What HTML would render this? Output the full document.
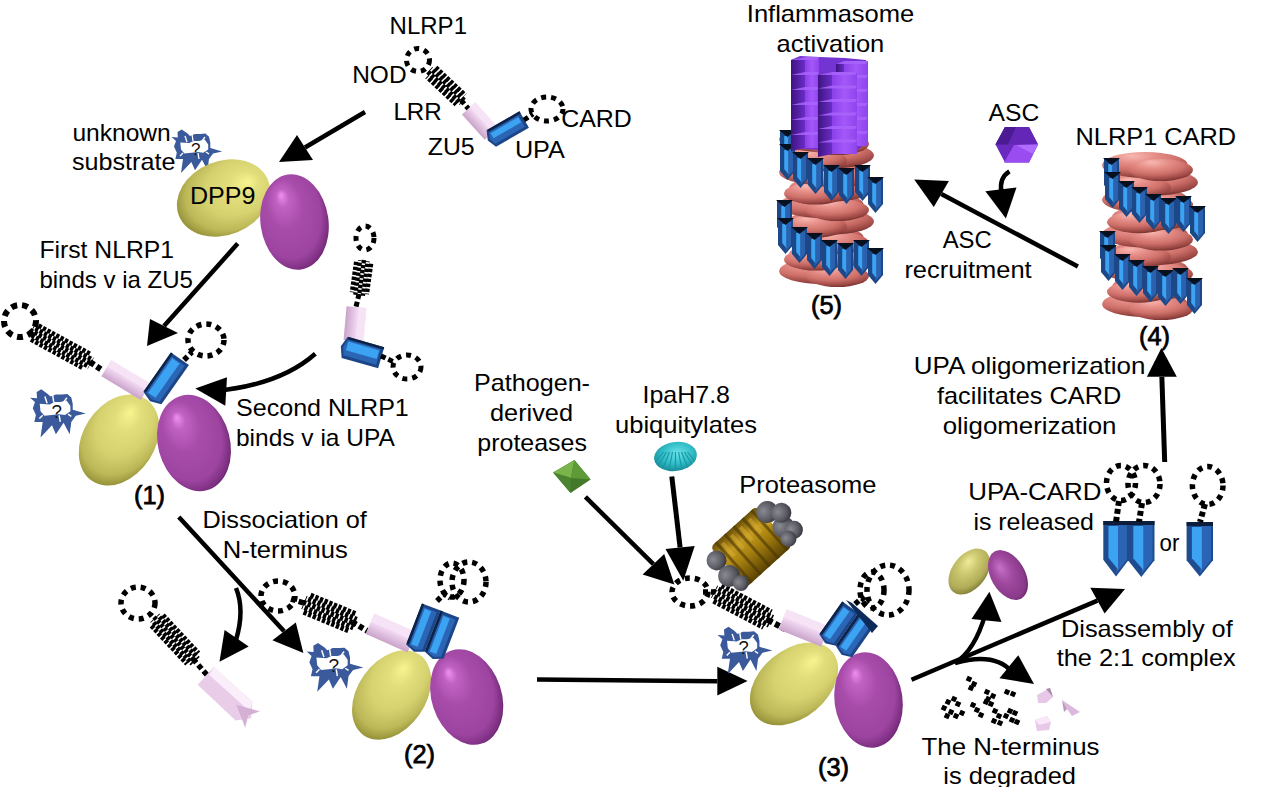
<!DOCTYPE html><html><head><meta charset="utf-8"><style>html,body{margin:0;padding:0;background:#fff;overflow:hidden;width:1280px;height:787px;}svg{display:block;}text{font-family:"Liberation Sans",sans-serif;fill:#000;}</style></head><body>
<svg width="1280" height="787" viewBox="0 0 1280 787">
<defs>
<radialGradient id="gy" cx="0.6" cy="0.46" r="0.66" fx="0.8" fy="0.42">
<stop offset="0" stop-color="#f8f48e"/><stop offset="0.25" stop-color="#e2de7c"/><stop offset="0.55" stop-color="#d6d270"/><stop offset="0.8" stop-color="#bcb858"/><stop offset="0.93" stop-color="#98943a"/><stop offset="1" stop-color="#6e6a22"/></radialGradient>
<radialGradient id="gp" cx="0.44" cy="0.45" r="0.62" fx="0.36" fy="0.2">
<stop offset="0" stop-color="#f090f0"/><stop offset="0.15" stop-color="#c062c2"/><stop offset="0.42" stop-color="#a84caa"/><stop offset="0.78" stop-color="#9c44a0"/><stop offset="0.92" stop-color="#7c2e80"/><stop offset="1" stop-color="#561a5a"/></radialGradient>
<linearGradient id="gpk" x1="0" y1="0" x2="0" y2="1">
<stop offset="0" stop-color="#fbecfb"/><stop offset="0.45" stop-color="#efd4ef"/><stop offset="1" stop-color="#c9a4c9"/></linearGradient>
<radialGradient id="gsal" cx="0.4" cy="0.2" r="0.85" fx="0.35" fy="0.15">
<stop offset="0" stop-color="#f8b8b0"/><stop offset="0.3" stop-color="#e68e88"/><stop offset="0.6" stop-color="#cf706a"/><stop offset="0.85" stop-color="#9c4844"/><stop offset="1" stop-color="#6a2a28"/></radialGradient>
<linearGradient id="ggold" x1="0" y1="0" x2="0" y2="1">
<stop offset="0" stop-color="#6a5008"/><stop offset="0.3" stop-color="#c49a22"/><stop offset="0.55" stop-color="#a8820f"/><stop offset="1" stop-color="#5a4204"/></linearGradient>
<radialGradient id="ggray" cx="0.4" cy="0.35" r="0.7">
<stop offset="0" stop-color="#8a8a92"/><stop offset="0.6" stop-color="#5c5c64"/><stop offset="1" stop-color="#34343c"/></radialGradient>
<radialGradient id="gcy" cx="0.55" cy="0.4" r="0.6">
<stop offset="0" stop-color="#6ae4ea"/><stop offset="0.6" stop-color="#30bcc6"/><stop offset="1" stop-color="#1a8e9a"/></radialGradient>
<linearGradient id="gvf" x1="0" y1="0" x2="1" y2="0">
<stop offset="0" stop-color="#8a40e8"/><stop offset="0.5" stop-color="#a458fa"/><stop offset="1" stop-color="#8e44ec"/></linearGradient>
<linearGradient id="gvd" x1="0" y1="0" x2="1" y2="0">
<stop offset="0" stop-color="#3e1480"/><stop offset="1" stop-color="#6a2cc8"/></linearGradient>
<radialGradient id="gy2" cx="0.55" cy="0.4" r="0.7" fx="0.65" fy="0.3">
<stop offset="0" stop-color="#eeea98"/><stop offset="0.35" stop-color="#ccc870"/><stop offset="0.7" stop-color="#b0ac58"/><stop offset="1" stop-color="#6a6626"/></radialGradient>
<radialGradient id="gp2" cx="0.45" cy="0.45" r="0.65" fx="0.4" fy="0.3">
<stop offset="0" stop-color="#c870c8"/><stop offset="0.4" stop-color="#a04aa0"/><stop offset="0.8" stop-color="#8a3a8a"/><stop offset="1" stop-color="#4e1a4e"/></radialGradient>
</defs>
<rect width="1280" height="787" fill="#fff"/>
<line x1="365" y1="112" x2="305.0" y2="147.5" stroke="#000" stroke-width="4.5"/>
<polygon points="279,162 297,135 313,160" fill="#000"/>
<line x1="237.7" y1="243.6" x2="164.0" y2="326.0" stroke="#000" stroke-width="4.5"/>
<polygon points="147,346 150,319 178,333" fill="#000"/>
<path d="M315.3,353.8 Q280,385 215,391" fill="none" stroke="#000" stroke-width="4.5"/>
<polygon points="195.3,388.5 227,377.3 225.3,405.8" fill="#000"/>
<line x1="178.8" y1="516.9" x2="284.1" y2="631.3" stroke="#000" stroke-width="4.5"/>
<polygon points="303.4,652.9 272.4,640.2 295.8,622.4" fill="#000"/>
<path d="M236,588 Q245,610 236,640" fill="none" stroke="#000" stroke-width="4.5"/>
<polygon points="219.5,661.8 224.6,630 248.7,646.5" fill="#000"/>
<line x1="537" y1="679.6" x2="717.3" y2="681.1500000000001" stroke="#000" stroke-width="4.5"/>
<polygon points="747.6,681 717.3,666.7 717.3,695.6" fill="#000"/>
<line x1="585.4" y1="496.9" x2="653.4000000000001" y2="564.2" stroke="#000" stroke-width="4.5"/>
<polygon points="674.4,584.6 642.6,574.4 664.2,554" fill="#000"/>
<line x1="671.8" y1="476.5" x2="680.1" y2="547.5" stroke="#000" stroke-width="5"/>
<polygon points="683.3,580.7 665.5,549 694.7,546" fill="#000"/>
<line x1="911.5" y1="679.7" x2="1097.4499999999998" y2="600.6500000000001" stroke="#000" stroke-width="4.5"/>
<polygon points="1125,589 1090.3,587.7 1104.6,613.6" fill="#000"/>
<path d="M955,663 Q975,650 985,615" fill="none" stroke="#000" stroke-width="4.5"/>
<polygon points="989.4,591.7 971.5,619 1001.5,622" fill="#000"/>
<path d="M955,663 Q995,652 1012,672" fill="none" stroke="#000" stroke-width="4.5"/>
<polygon points="1034,684 999.5,678.3 1018.3,655.2" fill="#000"/>
<line x1="1164.7" y1="462" x2="1161.85" y2="376.8" stroke="#000" stroke-width="5"/>
<polygon points="1161.4,347.9 1146.9,376.8 1176.8,376.8" fill="#000"/>
<line x1="1077.9" y1="266.5" x2="941.3499999999999" y2="194.05" stroke="#000" stroke-width="4.5"/>
<polygon points="914.2,179.4 948.9,181.1 933.8,207" fill="#000"/>
<path d="M1009.4,171.4 Q999,178 1001.4,192" fill="none" stroke="#000" stroke-width="4.5"/>
<polygon points="1005.9,218.5 985.4,191.3 1016.5,187.4" fill="#000"/>
<g transform="translate(196 150) scale(1.0)"><path d="M-24.5,-12.9 L-18.2,-12.5 L-18.5,-18.1 L-14.3,-20.6 L-8.7,-16.7 L-6,-14 L-1,-16 L4.5,-16 L9.4,-16.4 L13,-13.2 L14.3,-7.6 L14.3,-2 L26.2,1.4 L17.1,3.5 L13,9 L11.5,20.3 L6,9.8 L-1,20.3 L-4.6,12 L-15,23.1 L-13,9.1 L-20.6,9.1 L-19.2,2.8 L-22,-3.4 L-20,-9Z M-15.7,-7.6 L-6.6,-6.9 L-2.5,-9 L3,-9 L8.7,-10.4 L12.2,-5.5 L12.2,-0.6 L7.3,2.8 L1.7,2.1 L-4.6,2.8 L-11.5,3.5 L-15,-0.6Z" fill="#3a5a9c" fill-rule="evenodd"/><line x1="-4" y1="-16" x2="-3" y2="-9" stroke="#fff" stroke-width="1.3"/><line x1="-11" y1="-14" x2="-9" y2="-8" stroke="#fff" stroke-width="1.3"/><line x1="9" y1="-13" x2="6" y2="-9" stroke="#fff" stroke-width="1.3"/><line x1="-16" y1="6" x2="-13" y2="3" stroke="#fff" stroke-width="1.3"/><line x1="3" y1="9" x2="2" y2="3" stroke="#fff" stroke-width="1.3"/><line x1="13" y1="4" x2="10" y2="2" stroke="#fff" stroke-width="1.3"/><text x="-5" y="5" font-size="17" style="fill:#111">?</text></g>
<ellipse cx="223.5" cy="198" rx="48" ry="37" transform="rotate(-22 223.5 198)" fill="url(#gy)"/>
<ellipse cx="294.5" cy="222" rx="34" ry="48" transform="rotate(-8 294.5 222)" fill="url(#gp)"/>
<ellipse cx="418" cy="60" rx="11.5" ry="11.5" transform="rotate(0 418 60)" fill="none" stroke="#000" stroke-width="5" stroke-dasharray="5 5"/>
<g transform="translate(429 70) rotate(43.3)"><line x1="3.2" y1="-6.4" x2="43.5" y2="-6.4" stroke="#000" stroke-width="4.8" stroke-dasharray="3.4 1.6" stroke-dashoffset="0.0"/><line x1="0.4" y1="-2.1" x2="46.3" y2="-2.1" stroke="#000" stroke-width="4.8" stroke-dasharray="3.4 1.6" stroke-dashoffset="2.5"/><line x1="0.4" y1="2.1" x2="46.3" y2="2.1" stroke="#000" stroke-width="4.8" stroke-dasharray="3.4 1.6" stroke-dashoffset="0.0"/><line x1="3.2" y1="6.4" x2="43.5" y2="6.4" stroke="#000" stroke-width="4.8" stroke-dasharray="3.4 1.6" stroke-dashoffset="2.5"/></g>
<path d="M461,100 L472,113" fill="none" stroke="#000" stroke-width="5" stroke-dasharray="5 3"/>
<g transform="translate(480 121) rotate(48)"><polygon points="-17.0,-9.0 17.0,-9.0 17.0,9.0 -17.0,9.0" fill="url(#gpk)"/><polygon points="-17.0,-9.0 17.0,-9.0 17.0,-1.7999999999999998 -17.0,-1.7999999999999998" fill="#f6e4f6"/></g>
<g transform="translate(506 130) rotate(-30)"><polygon points="-17.0,-9.5 21.0,-9.5 21.0,9.5 -17.0,9.5 -21.0,0" fill="#1c4688"/><polygon points="-16.0,-6.5 18.0,-6.5 18.0,6.5 -16.0,6.5 -18.5,0" fill="#2b66b6"/><polygon points="-15.0,-5.0 17.0,-5.0 17.0,1.0 -15.0,1.0" fill="#3ca2f2"/><line x1="-16.0" y1="-8.3" x2="21.0" y2="-8.3" stroke="#0c2246" stroke-width="2.4"/></g>
<ellipse cx="547" cy="109" rx="16" ry="12" transform="rotate(0 547 109)" fill="none" stroke="#000" stroke-width="5" stroke-dasharray="5 5"/>
<path d="M524,120 L533,114" fill="none" stroke="#000" stroke-width="5" stroke-dasharray="5 3"/>
<ellipse cx="365" cy="238" rx="9" ry="12" transform="rotate(0 365 238)" fill="none" stroke="#000" stroke-width="5" stroke-dasharray="5 5"/>
<g transform="translate(364 260) rotate(97.9)"><line x1="2.8" y1="-7.6" x2="33.6" y2="-7.6" stroke="#000" stroke-width="4.3" stroke-dasharray="3.4 1.6" stroke-dashoffset="0.0"/><line x1="0.7" y1="-3.8" x2="35.6" y2="-3.8" stroke="#000" stroke-width="4.3" stroke-dasharray="3.4 1.6" stroke-dashoffset="2.5"/><line x1="0.0" y1="0.0" x2="36.3" y2="0.0" stroke="#000" stroke-width="4.3" stroke-dasharray="3.4 1.6" stroke-dashoffset="0.0"/><line x1="0.7" y1="3.8" x2="35.6" y2="3.8" stroke="#000" stroke-width="4.3" stroke-dasharray="3.4 1.6" stroke-dashoffset="2.5"/><line x1="2.8" y1="7.6" x2="33.6" y2="7.6" stroke="#000" stroke-width="4.3" stroke-dasharray="3.4 1.6" stroke-dashoffset="0.0"/></g>
<path d="M359,294 L356,307" fill="none" stroke="#000" stroke-width="5" stroke-dasharray="5 3"/>
<g transform="translate(355 324) rotate(95)"><polygon points="-17.0,-10.0 17.0,-10.0 17.0,10.0 -17.0,10.0" fill="url(#gpk)"/><polygon points="-17.0,-10.0 17.0,-10.0 17.0,-2.0 -17.0,-2.0" fill="#f6e4f6"/></g>
<g transform="translate(361 352) rotate(16)"><polygon points="-17.0,-11.0 21.0,-11.0 21.0,11.0 -17.0,11.0 -21.0,0" fill="#1c4688"/><polygon points="-16.0,-8.0 18.0,-8.0 18.0,8.0 -16.0,8.0 -18.5,0" fill="#2b66b6"/><polygon points="-15.0,-6.5 17.0,-6.5 17.0,2.5 -15.0,2.5" fill="#3ca2f2"/><line x1="-16.0" y1="-9.8" x2="21.0" y2="-9.8" stroke="#0c2246" stroke-width="2.4"/></g>
<ellipse cx="407" cy="367" rx="14" ry="12" transform="rotate(0 407 367)" fill="none" stroke="#000" stroke-width="5" stroke-dasharray="5 5"/>
<path d="M381,356 L394,362" fill="none" stroke="#000" stroke-width="5" stroke-dasharray="5 3"/>
<g transform="translate(57 412) scale(1.1)"><path d="M-24.5,-12.9 L-18.2,-12.5 L-18.5,-18.1 L-14.3,-20.6 L-8.7,-16.7 L-6,-14 L-1,-16 L4.5,-16 L9.4,-16.4 L13,-13.2 L14.3,-7.6 L14.3,-2 L26.2,1.4 L17.1,3.5 L13,9 L11.5,20.3 L6,9.8 L-1,20.3 L-4.6,12 L-15,23.1 L-13,9.1 L-20.6,9.1 L-19.2,2.8 L-22,-3.4 L-20,-9Z M-15.7,-7.6 L-6.6,-6.9 L-2.5,-9 L3,-9 L8.7,-10.4 L12.2,-5.5 L12.2,-0.6 L7.3,2.8 L1.7,2.1 L-4.6,2.8 L-11.5,3.5 L-15,-0.6Z" fill="#3a5a9c" fill-rule="evenodd"/><line x1="-4" y1="-16" x2="-3" y2="-9" stroke="#fff" stroke-width="1.3"/><line x1="-11" y1="-14" x2="-9" y2="-8" stroke="#fff" stroke-width="1.3"/><line x1="9" y1="-13" x2="6" y2="-9" stroke="#fff" stroke-width="1.3"/><line x1="-16" y1="6" x2="-13" y2="3" stroke="#fff" stroke-width="1.3"/><line x1="3" y1="9" x2="2" y2="3" stroke="#fff" stroke-width="1.3"/><line x1="13" y1="4" x2="10" y2="2" stroke="#fff" stroke-width="1.3"/><text x="-5" y="5" font-size="17" style="fill:#111">?</text></g>
<ellipse cx="119" cy="440" rx="49" ry="36" transform="rotate(-57 119 440)" fill="url(#gy)"/>
<ellipse cx="194" cy="443" rx="36" ry="49" transform="rotate(-15 194 443)" fill="url(#gp)"/>
<ellipse cx="20" cy="321" rx="16" ry="16" transform="rotate(0 20 321)" fill="none" stroke="#000" stroke-width="6" stroke-dasharray="6 5"/>
<g transform="translate(30 330) rotate(28.7)"><line x1="5.4" y1="-8.0" x2="65.3" y2="-8.0" stroke="#000" stroke-width="4.5" stroke-dasharray="3.4 1.6" stroke-dashoffset="0.0"/><line x1="1.4" y1="-4.0" x2="69.4" y2="-4.0" stroke="#000" stroke-width="4.5" stroke-dasharray="3.4 1.6" stroke-dashoffset="2.5"/><line x1="0.0" y1="0.0" x2="70.7" y2="0.0" stroke="#000" stroke-width="4.5" stroke-dasharray="3.4 1.6" stroke-dashoffset="0.0"/><line x1="1.4" y1="4.0" x2="69.4" y2="4.0" stroke="#000" stroke-width="4.5" stroke-dasharray="3.4 1.6" stroke-dashoffset="2.5"/><line x1="5.4" y1="8.0" x2="65.3" y2="8.0" stroke="#000" stroke-width="4.5" stroke-dasharray="3.4 1.6" stroke-dashoffset="0.0"/></g>
<path d="M90,362 L102,370" fill="none" stroke="#000" stroke-width="6" stroke-dasharray="5 3"/>
<g transform="translate(126 380) rotate(31)"><polygon points="-23.0,-9.5 23.0,-9.5 23.0,9.5 -23.0,9.5" fill="url(#gpk)"/><polygon points="-23.0,-9.5 23.0,-9.5 23.0,-1.8999999999999995 -23.0,-1.8999999999999995" fill="#f6e4f6"/></g>
<g transform="translate(165 380) rotate(-55)"><polygon points="-22.0,-11.0 26.0,-11.0 26.0,11.0 -22.0,11.0 -26.0,0" fill="#1c4688"/><polygon points="-21.0,-8.0 23.0,-8.0 23.0,8.0 -21.0,8.0 -23.5,0" fill="#2b66b6"/><polygon points="-20.0,-6.5 22.0,-6.5 22.0,2.5 -20.0,2.5" fill="#3ca2f2"/><line x1="-21.0" y1="-9.8" x2="26.0" y2="-9.8" stroke="#0c2246" stroke-width="2.4"/></g>
<ellipse cx="206" cy="340" rx="18" ry="16" transform="rotate(0 206 340)" fill="none" stroke="#000" stroke-width="5.5" stroke-dasharray="5 5"/>
<path d="M184,360 L192,352" fill="none" stroke="#000" stroke-width="5.5" stroke-dasharray="5 3"/>
<ellipse cx="138" cy="603" rx="17" ry="16" transform="rotate(0 138 603)" fill="none" stroke="#000" stroke-width="5.5" stroke-dasharray="5 5"/>
<g transform="translate(154 617) rotate(47.0)"><line x1="4.7" y1="-8.0" x2="56.8" y2="-8.0" stroke="#000" stroke-width="4.5" stroke-dasharray="3.4 1.6" stroke-dashoffset="0.0"/><line x1="1.2" y1="-4.0" x2="60.4" y2="-4.0" stroke="#000" stroke-width="4.5" stroke-dasharray="3.4 1.6" stroke-dashoffset="2.5"/><line x1="0.0" y1="0.0" x2="61.6" y2="0.0" stroke="#000" stroke-width="4.5" stroke-dasharray="3.4 1.6" stroke-dashoffset="0.0"/><line x1="1.2" y1="4.0" x2="60.4" y2="4.0" stroke="#000" stroke-width="4.5" stroke-dasharray="3.4 1.6" stroke-dashoffset="2.5"/><line x1="4.7" y1="8.0" x2="56.8" y2="8.0" stroke="#000" stroke-width="4.5" stroke-dasharray="3.4 1.6" stroke-dashoffset="0.0"/></g>
<path d="M193,659 L207,675" fill="none" stroke="#000" stroke-width="5.5" stroke-dasharray="5 3"/>
<g transform="translate(228 696) rotate(42)"><polygon points="-30,-12 22,-12 32,1 22,13 -30,12" fill="#e8cce8"/><polygon points="-30,-12 22,-12 27,-3 -28,-3" fill="#faeefa"/><polygon points="12,1 34,-10 28,1 34,12" fill="#d4b0d4"/></g>
<g transform="translate(334 666) scale(1.12)"><path d="M-24.5,-12.9 L-18.2,-12.5 L-18.5,-18.1 L-14.3,-20.6 L-8.7,-16.7 L-6,-14 L-1,-16 L4.5,-16 L9.4,-16.4 L13,-13.2 L14.3,-7.6 L14.3,-2 L26.2,1.4 L17.1,3.5 L13,9 L11.5,20.3 L6,9.8 L-1,20.3 L-4.6,12 L-15,23.1 L-13,9.1 L-20.6,9.1 L-19.2,2.8 L-22,-3.4 L-20,-9Z M-15.7,-7.6 L-6.6,-6.9 L-2.5,-9 L3,-9 L8.7,-10.4 L12.2,-5.5 L12.2,-0.6 L7.3,2.8 L1.7,2.1 L-4.6,2.8 L-11.5,3.5 L-15,-0.6Z" fill="#3a5a9c" fill-rule="evenodd"/><line x1="-4" y1="-16" x2="-3" y2="-9" stroke="#fff" stroke-width="1.3"/><line x1="-11" y1="-14" x2="-9" y2="-8" stroke="#fff" stroke-width="1.3"/><line x1="9" y1="-13" x2="6" y2="-9" stroke="#fff" stroke-width="1.3"/><line x1="-16" y1="6" x2="-13" y2="3" stroke="#fff" stroke-width="1.3"/><line x1="3" y1="9" x2="2" y2="3" stroke="#fff" stroke-width="1.3"/><line x1="13" y1="4" x2="10" y2="2" stroke="#fff" stroke-width="1.3"/><text x="-5" y="5" font-size="17" style="fill:#111">?</text></g>
<ellipse cx="391.6" cy="695" rx="49" ry="34" transform="rotate(-55 391.6 695)" fill="url(#gy)"/>
<ellipse cx="466.7" cy="697" rx="35" ry="49" transform="rotate(-18 466.7 697)" fill="url(#gp)"/>
<ellipse cx="278" cy="596" rx="17" ry="15" transform="rotate(0 278 596)" fill="none" stroke="#000" stroke-width="5.5" stroke-dasharray="5 5"/>
<path d="M291,599 L304,603" fill="none" stroke="#000" stroke-width="5.5" stroke-dasharray="5 3"/>
<g transform="translate(303 602) rotate(22.5)"><line x1="4.4" y1="-9.2" x2="53.0" y2="-9.2" stroke="#000" stroke-width="5.1" stroke-dasharray="3.4 1.6" stroke-dashoffset="0.0"/><line x1="1.1" y1="-4.6" x2="56.3" y2="-4.6" stroke="#000" stroke-width="5.1" stroke-dasharray="3.4 1.6" stroke-dashoffset="2.5"/><line x1="0.0" y1="0.0" x2="57.4" y2="0.0" stroke="#000" stroke-width="5.1" stroke-dasharray="3.4 1.6" stroke-dashoffset="0.0"/><line x1="1.1" y1="4.6" x2="56.3" y2="4.6" stroke="#000" stroke-width="5.1" stroke-dasharray="3.4 1.6" stroke-dashoffset="2.5"/><line x1="4.4" y1="9.2" x2="53.0" y2="9.2" stroke="#000" stroke-width="5.1" stroke-dasharray="3.4 1.6" stroke-dashoffset="0.0"/></g>
<path d="M352,622 L371,633" fill="none" stroke="#000" stroke-width="6" stroke-dasharray="5 3"/>
<g transform="translate(391 633) rotate(24)"><polygon points="-23.0,-11.0 23.0,-11.0 23.0,11.0 -23.0,11.0" fill="url(#gpk)"/><polygon points="-23.0,-11.0 23.0,-11.0 23.0,-2.1999999999999993 -23.0,-2.1999999999999993" fill="#f6e4f6"/></g>
<g transform="translate(432 633) rotate(-69)"><polygon points="-20.0,-20.0 24.0,-20.0 24.0,0.0 -20.0,0.0 -24.0,-10.0" fill="#1c4688"/><polygon points="-19.0,-17.0 21.0,-17.0 21.0,-3.0 -19.0,-3.0 -21.5,-10.0" fill="#2b66b6"/><polygon points="-18.0,-15.5 20.0,-15.5 20.0,-8.5 -18.0,-8.5" fill="#3ca2f2"/><line x1="-19.0" y1="-18.8" x2="24.0" y2="-18.8" stroke="#0c2246" stroke-width="2.4"/><polygon points="-20.0,0.0 24.0,0.0 24.0,20.0 -20.0,20.0 -24.0,10.0" fill="#1c4688"/><polygon points="-19.0,3.0 21.0,3.0 21.0,17.0 -19.0,17.0 -21.5,10.0" fill="#2b66b6"/><polygon points="-18.0,4.5 20.0,4.5 20.0,11.5 -18.0,11.5" fill="#3ca2f2"/><line x1="-19.0" y1="1.2" x2="24.0" y2="1.2" stroke="#0c2246" stroke-width="2.4"/></g>
<ellipse cx="469" cy="582" rx="17" ry="20" transform="rotate(0 469 582)" fill="none" stroke="#000" stroke-width="5.5" stroke-dasharray="5 5"/>
<ellipse cx="452" cy="580" rx="12" ry="17" transform="rotate(0 452 580)" fill="none" stroke="#000" stroke-width="5.5" stroke-dasharray="5 5"/>
<path d="M437,601 L444,594 L450,598" fill="none" stroke="#000" stroke-width="5.5" stroke-dasharray="5 3"/>
<g transform="translate(744 649) scale(1.08)"><path d="M-24.5,-12.9 L-18.2,-12.5 L-18.5,-18.1 L-14.3,-20.6 L-8.7,-16.7 L-6,-14 L-1,-16 L4.5,-16 L9.4,-16.4 L13,-13.2 L14.3,-7.6 L14.3,-2 L26.2,1.4 L17.1,3.5 L13,9 L11.5,20.3 L6,9.8 L-1,20.3 L-4.6,12 L-15,23.1 L-13,9.1 L-20.6,9.1 L-19.2,2.8 L-22,-3.4 L-20,-9Z M-15.7,-7.6 L-6.6,-6.9 L-2.5,-9 L3,-9 L8.7,-10.4 L12.2,-5.5 L12.2,-0.6 L7.3,2.8 L1.7,2.1 L-4.6,2.8 L-11.5,3.5 L-15,-0.6Z" fill="#3a5a9c" fill-rule="evenodd"/><line x1="-4" y1="-16" x2="-3" y2="-9" stroke="#fff" stroke-width="1.3"/><line x1="-11" y1="-14" x2="-9" y2="-8" stroke="#fff" stroke-width="1.3"/><line x1="9" y1="-13" x2="6" y2="-9" stroke="#fff" stroke-width="1.3"/><line x1="-16" y1="6" x2="-13" y2="3" stroke="#fff" stroke-width="1.3"/><line x1="3" y1="9" x2="2" y2="3" stroke="#fff" stroke-width="1.3"/><line x1="13" y1="4" x2="10" y2="2" stroke="#fff" stroke-width="1.3"/><text x="-5" y="5" font-size="17" style="fill:#111">?</text></g>
<ellipse cx="794" cy="684" rx="50" ry="34" transform="rotate(-40 794 684)" fill="url(#gy)"/>
<ellipse cx="868.5" cy="700" rx="34" ry="48" transform="rotate(-8 868.5 700)" fill="url(#gp)"/>
<ellipse cx="690" cy="592" rx="18" ry="14" transform="rotate(0 690 592)" fill="none" stroke="#000" stroke-width="5.5" stroke-dasharray="5 5"/>
<path d="M703,592 L714,592" fill="none" stroke="#000" stroke-width="5.5" stroke-dasharray="5 3"/>
<g transform="translate(713 591) rotate(27.7)"><line x1="5.1" y1="-8.8" x2="61.5" y2="-8.8" stroke="#000" stroke-width="4.9" stroke-dasharray="3.4 1.6" stroke-dashoffset="0.0"/><line x1="1.3" y1="-4.4" x2="65.4" y2="-4.4" stroke="#000" stroke-width="4.9" stroke-dasharray="3.4 1.6" stroke-dashoffset="2.5"/><line x1="0.0" y1="0.0" x2="66.6" y2="0.0" stroke="#000" stroke-width="4.9" stroke-dasharray="3.4 1.6" stroke-dashoffset="0.0"/><line x1="1.3" y1="4.4" x2="65.4" y2="4.4" stroke="#000" stroke-width="4.9" stroke-dasharray="3.4 1.6" stroke-dashoffset="2.5"/><line x1="5.1" y1="8.8" x2="61.5" y2="8.8" stroke="#000" stroke-width="4.9" stroke-dasharray="3.4 1.6" stroke-dashoffset="0.0"/></g>
<path d="M768,620 L785,629" fill="none" stroke="#000" stroke-width="6" stroke-dasharray="5 3"/>
<g transform="translate(804 628) rotate(22)"><polygon points="-23.0,-11.0 23.0,-11.0 23.0,11.0 -23.0,11.0" fill="url(#gpk)"/><polygon points="-23.0,-11.0 23.0,-11.0 23.0,-2.1999999999999993 -23.0,-2.1999999999999993" fill="#f6e4f6"/></g>
<g transform="translate(846 631) rotate(-55)"><polygon points="-18.0,-20.0 22.0,-20.0 22.0,0.0 -18.0,0.0 -22.0,-10.0" fill="#1c4688"/><polygon points="-17.0,-17.0 19.0,-17.0 19.0,-3.0 -17.0,-3.0 -19.5,-10.0" fill="#2b66b6"/><polygon points="-16.0,-15.5 18.0,-15.5 18.0,-8.5 -16.0,-8.5" fill="#3ca2f2"/><line x1="-17.0" y1="-18.8" x2="22.0" y2="-18.8" stroke="#0c2246" stroke-width="2.4"/><polygon points="-18.0,0.0 22.0,0.0 22.0,20.0 -18.0,20.0 -22.0,10.0" fill="#1c4688"/><polygon points="-17.0,3.0 19.0,3.0 19.0,17.0 -17.0,17.0 -19.5,10.0" fill="#2b66b6"/><polygon points="-16.0,4.5 18.0,4.5 18.0,11.5 -16.0,11.5" fill="#3ca2f2"/><line x1="-17.0" y1="1.2" x2="22.0" y2="1.2" stroke="#0c2246" stroke-width="2.4"/></g>
<polygon points="846,600 852,603 878,626 872,633" fill="#0e2a58"/>
<ellipse cx="888" cy="590" rx="21" ry="25" transform="rotate(0 888 590)" fill="none" stroke="#000" stroke-width="5.5" stroke-dasharray="5 5"/>
<ellipse cx="872" cy="590" rx="12" ry="18" transform="rotate(0 872 590)" fill="none" stroke="#000" stroke-width="5.5" stroke-dasharray="5 5"/>
<path d="M855,604 L862,598 L868,604" fill="none" stroke="#000" stroke-width="5.5" stroke-dasharray="5 3"/>
<ellipse cx="969.3" cy="571.6" rx="26" ry="17" transform="rotate(-52 969.3 571.6)" fill="url(#gy2)"/>
<ellipse cx="1008" cy="575" rx="17" ry="27" transform="rotate(-30 1008 575)" fill="url(#gp2)"/>
<rect x="966.5" y="676.5" width="5" height="5" fill="#000" transform="rotate(25 969 679)"/>
<rect x="971.5" y="681.5" width="5" height="5" fill="#000" transform="rotate(25 974 684)"/>
<rect x="968.5" y="685.5" width="5" height="5" fill="#000" transform="rotate(25 971 688)"/>
<rect x="984.5" y="689.5" width="5" height="5" fill="#000" transform="rotate(25 987 692)"/>
<rect x="990.5" y="693.5" width="5" height="5" fill="#000" transform="rotate(25 993 696)"/>
<rect x="985.5" y="696.5" width="5" height="5" fill="#000" transform="rotate(25 988 699)"/>
<rect x="1004.5" y="689.5" width="5" height="5" fill="#000" transform="rotate(25 1007 692)"/>
<rect x="1010.5" y="691.5" width="5" height="5" fill="#000" transform="rotate(25 1013 694)"/>
<rect x="941.5" y="705.5" width="5" height="5" fill="#000" transform="rotate(25 944 708)"/>
<rect x="945.5" y="699.5" width="5" height="5" fill="#000" transform="rotate(25 948 702)"/>
<rect x="951.5" y="696.5" width="5" height="5" fill="#000" transform="rotate(25 954 699)"/>
<rect x="955.5" y="701.5" width="5" height="5" fill="#000" transform="rotate(25 958 704)"/>
<rect x="948.5" y="709.5" width="5" height="5" fill="#000" transform="rotate(25 951 712)"/>
<rect x="953.5" y="713.5" width="5" height="5" fill="#000" transform="rotate(25 956 716)"/>
<rect x="959.5" y="710.5" width="5" height="5" fill="#000" transform="rotate(25 962 713)"/>
<rect x="944.5" y="713.5" width="5" height="5" fill="#000" transform="rotate(25 947 716)"/>
<rect x="970.5" y="702.5" width="5" height="5" fill="#000" transform="rotate(25 973 705)"/>
<rect x="974.5" y="707.5" width="5" height="5" fill="#000" transform="rotate(25 977 710)"/>
<rect x="978.5" y="712.5" width="5" height="5" fill="#000" transform="rotate(25 981 715)"/>
<rect x="983.5" y="699.5" width="5" height="5" fill="#000" transform="rotate(25 986 702)"/>
<rect x="988.5" y="701.5" width="5" height="5" fill="#000" transform="rotate(25 991 704)"/>
<rect x="992.5" y="708.5" width="5" height="5" fill="#000" transform="rotate(25 995 711)"/>
<rect x="996.5" y="713.5" width="5" height="5" fill="#000" transform="rotate(25 999 716)"/>
<rect x="991.5" y="718.5" width="5" height="5" fill="#000" transform="rotate(25 994 721)"/>
<rect x="997.5" y="720.5" width="5" height="5" fill="#000" transform="rotate(25 1000 723)"/>
<rect x="1007.5" y="708.5" width="5" height="5" fill="#000" transform="rotate(25 1010 711)"/>
<rect x="1012.5" y="710.5" width="5" height="5" fill="#000" transform="rotate(25 1015 713)"/>
<rect x="1009.5" y="717.5" width="5" height="5" fill="#000" transform="rotate(25 1012 720)"/>
<rect x="1014.5" y="719.5" width="5" height="5" fill="#000" transform="rotate(25 1017 722)"/>
<rect x="1003.5" y="713.5" width="5" height="5" fill="#000" transform="rotate(25 1006 716)"/>
<polygon points="1037,695 1050,688 1053,697 1046,703 1038,703" fill="#e8c8e8"/><polygon points="1046,689 1053,697 1050,688" fill="#a888a8"/>
<polygon points="1062,700 1080,712 1072,716 1067,709" fill="#dcb8dc"/><polygon points="1062,700 1067,709 1064,712" fill="#b898b8"/>
<polygon points="1035,720 1047,716 1051,722 1049,730 1037,731" fill="#e8c8e8"/><polygon points="1035,720 1047,716 1051,722 1039,725" fill="#f8e8f8"/>
<polygon points="1103.3,521 1128.8,521 1128.8,559.85 1116.05,576.5 1103.3,559.85" fill="#1f4c8e"/>
<polygon points="1118.09,525 1126.8,525 1126.8,559.85 1116.05,573.5 1118.09,560.85" fill="#2b64b4"/>
<polygon points="1108.3999999999999,526 1118.09,526 1118.09,569.5 1108.3999999999999,557.85" fill="#3ca2f2"/>
<rect x="1103.3" y="521" width="25.5" height="4" fill="#0c1e3c"/>
<polygon points="1128,521 1154.5,521 1154.5,560.2 1141.25,577 1128,560.2" fill="#1f4c8e"/>
<polygon points="1143.37,525 1152.5,525 1152.5,560.2 1141.25,574 1143.37,561.2" fill="#2b64b4"/>
<polygon points="1133.3,526 1143.37,526 1143.37,570 1133.3,558.2" fill="#3ca2f2"/>
<rect x="1128" y="521" width="26.5" height="4" fill="#0c1e3c"/>
<polygon points="1186.6,522 1213.0,522 1213.0,560.15 1199.8,576.5 1186.6,560.15" fill="#1f4c8e"/>
<polygon points="1201.9119999999998,526 1211.0,526 1211.0,560.15 1199.8,573.5 1201.9119999999998,561.15" fill="#2b64b4"/>
<polygon points="1191.8799999999999,527 1201.9119999999998,527 1201.9119999999998,569.5 1191.8799999999999,558.15" fill="#3ca2f2"/>
<rect x="1186.6" y="522" width="26.4" height="4" fill="#0c1e3c"/>
<ellipse cx="1121" cy="483" rx="14.5" ry="17.5" transform="rotate(0 1121 483)" fill="none" stroke="#000" stroke-width="5.5" stroke-dasharray="5 5"/>
<ellipse cx="1144" cy="484" rx="16" ry="18.5" transform="rotate(0 1144 484)" fill="none" stroke="#000" stroke-width="5.5" stroke-dasharray="5 5"/>
<ellipse cx="1207.7" cy="485.5" rx="15.3" ry="19" transform="rotate(0 1207.7 485.5)" fill="none" stroke="#000" stroke-width="5.5" stroke-dasharray="5 5"/>
<path d="M1119,501 L1116,522" fill="none" stroke="#000" stroke-width="6" stroke-dasharray="5 3"/>
<path d="M1142,503 L1139,522" fill="none" stroke="#000" stroke-width="6" stroke-dasharray="5 3"/>
<path d="M1205,504 L1200,522" fill="none" stroke="#000" stroke-width="6" stroke-dasharray="5 3"/>
<polygon points="574.4,460 590.6,479.4 570.6,493.1 553.1,472.5" fill="#44782a"/><polygon points="574.4,460 553.1,472.5 571,478" fill="#7ab44a"/><polygon points="574.4,460 590.6,479.4 571,478" fill="#5e9a38"/><polygon points="553.1,472.5 571,478 570.6,493.1" fill="#4a8430"/>
<clipPath id="cpc"><ellipse cx="675.5" cy="456.5" rx="21.5" ry="14.5" transform="rotate(-8 675.5 456.5)"/></clipPath>
<ellipse cx="675.5" cy="456.5" rx="21.5" ry="14.5" transform="rotate(-8 675.5 456.5)" fill="url(#gcy)"/>
<g clip-path="url(#cpc)">
<line x1="663.5" y1="452" x2="647.5" y2="472" stroke="#1898a6" stroke-width="1.2"/>
<line x1="666.5" y1="452" x2="654.5" y2="472" stroke="#1898a6" stroke-width="1.2"/>
<line x1="669.5" y1="452" x2="661.5" y2="472" stroke="#1898a6" stroke-width="1.2"/>
<line x1="672.5" y1="452" x2="668.5" y2="472" stroke="#1898a6" stroke-width="1.2"/>
<line x1="675.5" y1="452" x2="675.5" y2="472" stroke="#1898a6" stroke-width="1.2"/>
<line x1="678.5" y1="452" x2="682.5" y2="472" stroke="#1898a6" stroke-width="1.2"/>
<line x1="681.5" y1="452" x2="689.5" y2="472" stroke="#1898a6" stroke-width="1.2"/>
<line x1="684.5" y1="452" x2="696.5" y2="472" stroke="#1898a6" stroke-width="1.2"/>
<line x1="687.5" y1="452" x2="703.5" y2="472" stroke="#1898a6" stroke-width="1.2"/>
</g>
<polygon points="1005,127 1029,127 1038,144.5 1029,162.5 1005,162.5 995.5,144.5" fill="#6a2ac0"/><polygon points="1005,127 1029,127 1038,144.5 995.5,144.5" fill="#6426b6"/><polygon points="1005,127 1016,127 1008,144.5 995.5,144.5" fill="#4c1a92"/><polygon points="1014,145 1038,144.5 1029,162.5 1004,162.5" fill="#9a4cf0"/><polygon points="1016,145 1038,144.5 1033,154" fill="#b06cff"/>
<g transform="translate(752 546) rotate(-42)">
<rect x="-32" y="-27" width="62" height="54" rx="5" fill="url(#ggold)"/>
<rect x="-26" y="-27" width="3" height="54" fill="#4a3604" opacity="0.6"/>
<rect x="-22" y="-22" width="4" height="18" fill="#d8b030" opacity="0.5"/>
<rect x="-14" y="-27" width="3" height="54" fill="#4a3604" opacity="0.6"/>
<rect x="-10" y="-22" width="4" height="18" fill="#d8b030" opacity="0.5"/>
<rect x="-2" y="-27" width="3" height="54" fill="#4a3604" opacity="0.6"/>
<rect x="2" y="-22" width="4" height="18" fill="#d8b030" opacity="0.5"/>
<rect x="10" y="-27" width="3" height="54" fill="#4a3604" opacity="0.6"/>
<rect x="14" y="-22" width="4" height="18" fill="#d8b030" opacity="0.5"/>
<rect x="22" y="-27" width="3" height="54" fill="#4a3604" opacity="0.6"/>
<rect x="26" y="-22" width="4" height="18" fill="#d8b030" opacity="0.5"/>
<circle cx="34" cy="-15" r="11" fill="url(#ggray)"/>
<circle cx="36" cy="7" r="11" fill="url(#ggray)"/>
<circle cx="44" cy="-5" r="10" fill="url(#ggray)"/>
<circle cx="42" cy="16" r="9" fill="url(#ggray)"/>
<circle cx="32" cy="19" r="8" fill="url(#ggray)"/>
<circle cx="-36" cy="-13" r="10" fill="url(#ggray)"/>
<circle cx="-37" cy="7" r="11" fill="url(#ggray)"/>
<circle cx="-33" cy="20" r="8" fill="url(#ggray)"/>
</g>
<ellipse cx="1145.0" cy="304.0" rx="43.0" ry="13" transform="rotate(0 1145.0 304.0)" fill="url(#gsal)"/>
<ellipse cx="1161.0" cy="309.0" rx="32.0" ry="11" transform="rotate(0 1161.0 309.0)" fill="url(#gsal)"/>
<ellipse cx="1155.0" cy="286.625" rx="43.0" ry="13" transform="rotate(0 1155.0 286.625)" fill="url(#gsal)"/>
<ellipse cx="1139.0" cy="291.625" rx="32.0" ry="11" transform="rotate(0 1139.0 291.625)" fill="url(#gsal)"/>
<ellipse cx="1145.0" cy="269.25" rx="43.0" ry="13" transform="rotate(0 1145.0 269.25)" fill="url(#gsal)"/>
<ellipse cx="1161.0" cy="274.25" rx="32.0" ry="11" transform="rotate(0 1161.0 274.25)" fill="url(#gsal)"/>
<ellipse cx="1155.0" cy="251.875" rx="43.0" ry="13" transform="rotate(0 1155.0 251.875)" fill="url(#gsal)"/>
<ellipse cx="1139.0" cy="256.875" rx="32.0" ry="11" transform="rotate(0 1139.0 256.875)" fill="url(#gsal)"/>
<ellipse cx="1145.0" cy="234.5" rx="43.0" ry="13" transform="rotate(0 1145.0 234.5)" fill="url(#gsal)"/>
<ellipse cx="1161.0" cy="239.5" rx="32.0" ry="11" transform="rotate(0 1161.0 239.5)" fill="url(#gsal)"/>
<ellipse cx="1155.0" cy="217.125" rx="43.0" ry="13" transform="rotate(0 1155.0 217.125)" fill="url(#gsal)"/>
<ellipse cx="1139.0" cy="222.125" rx="32.0" ry="11" transform="rotate(0 1139.0 222.125)" fill="url(#gsal)"/>
<ellipse cx="1145.0" cy="199.75" rx="43.0" ry="13" transform="rotate(0 1145.0 199.75)" fill="url(#gsal)"/>
<ellipse cx="1161.0" cy="204.75" rx="32.0" ry="11" transform="rotate(0 1161.0 204.75)" fill="url(#gsal)"/>
<ellipse cx="1155.0" cy="182.375" rx="43.0" ry="13" transform="rotate(0 1155.0 182.375)" fill="url(#gsal)"/>
<ellipse cx="1139.0" cy="187.375" rx="32.0" ry="11" transform="rotate(0 1139.0 187.375)" fill="url(#gsal)"/>
<ellipse cx="1145.0" cy="165.0" rx="43.0" ry="13" transform="rotate(0 1145.0 165.0)" fill="url(#gsal)"/>
<ellipse cx="1161.0" cy="170.0" rx="32.0" ry="11" transform="rotate(0 1161.0 170.0)" fill="url(#gsal)"/>
<polygon points="1104,158 1119,158 1119,185 1111.5,194 1104,185" fill="#1c4888"/>
<polygon points="1112.25,162 1117,162 1117,185 1111.5,191 1112.25,185" fill="#2a62b0"/>
<polygon points="1108.2,164 1112.25,164 1112.25,188 1108.2,183" fill="#3ca2f2"/>
<polygon points="1103,158 1120,158 1111.5,165" fill="#06101e"/>
<polygon points="1105,172 1120,172 1120,199 1112.5,208 1105,199" fill="#1c4888"/>
<polygon points="1113.25,176 1118,176 1118,199 1112.5,205 1113.25,199" fill="#2a62b0"/>
<polygon points="1109.2,178 1113.25,178 1113.25,202 1109.2,197" fill="#3ca2f2"/>
<polygon points="1104,172 1121,172 1112.5,179" fill="#06101e"/>
<polygon points="1119,181 1134,181 1134,208 1126.5,217 1119,208" fill="#1c4888"/>
<polygon points="1127.25,185 1132,185 1132,208 1126.5,214 1127.25,208" fill="#2a62b0"/>
<polygon points="1123.2,187 1127.25,187 1127.25,211 1123.2,206" fill="#3ca2f2"/>
<polygon points="1118,181 1135,181 1126.5,188" fill="#06101e"/>
<polygon points="1132,187 1147,187 1147,214 1139.5,223 1132,214" fill="#1c4888"/>
<polygon points="1140.25,191 1145,191 1145,214 1139.5,220 1140.25,214" fill="#2a62b0"/>
<polygon points="1136.2,193 1140.25,193 1140.25,217 1136.2,212" fill="#3ca2f2"/>
<polygon points="1131,187 1148,187 1139.5,194" fill="#06101e"/>
<polygon points="1146,194 1161,194 1161,221 1153.5,230 1146,221" fill="#1c4888"/>
<polygon points="1154.25,198 1159,198 1159,221 1153.5,227 1154.25,221" fill="#2a62b0"/>
<polygon points="1150.2,200 1154.25,200 1154.25,224 1150.2,219" fill="#3ca2f2"/>
<polygon points="1145,194 1162,194 1153.5,201" fill="#06101e"/>
<polygon points="1161,198 1176,198 1176,225 1168.5,234 1161,225" fill="#1c4888"/>
<polygon points="1169.25,202 1174,202 1174,225 1168.5,231 1169.25,225" fill="#2a62b0"/>
<polygon points="1165.2,204 1169.25,204 1169.25,228 1165.2,223" fill="#3ca2f2"/>
<polygon points="1160,198 1177,198 1168.5,205" fill="#06101e"/>
<polygon points="1176,196 1191,196 1191,223 1183.5,232 1176,223" fill="#1c4888"/>
<polygon points="1184.25,200 1189,200 1189,223 1183.5,229 1184.25,223" fill="#2a62b0"/>
<polygon points="1180.2,202 1184.25,202 1184.25,226 1180.2,221" fill="#3ca2f2"/>
<polygon points="1175,196 1192,196 1183.5,203" fill="#06101e"/>
<polygon points="1190,206 1205,206 1205,233 1197.5,242 1190,233" fill="#1c4888"/>
<polygon points="1198.25,210 1203,210 1203,233 1197.5,239 1198.25,233" fill="#2a62b0"/>
<polygon points="1194.2,212 1198.25,212 1198.25,236 1194.2,231" fill="#3ca2f2"/>
<polygon points="1189,206 1206,206 1197.5,213" fill="#06101e"/>
<polygon points="1100,231 1115,231 1115,258 1107.5,267 1100,258" fill="#1c4888"/>
<polygon points="1108.25,235 1113,235 1113,258 1107.5,264 1108.25,258" fill="#2a62b0"/>
<polygon points="1104.2,237 1108.25,237 1108.25,261 1104.2,256" fill="#3ca2f2"/>
<polygon points="1099,231 1116,231 1107.5,238" fill="#06101e"/>
<polygon points="1101,245 1116,245 1116,272 1108.5,281 1101,272" fill="#1c4888"/>
<polygon points="1109.25,249 1114,249 1114,272 1108.5,278 1109.25,272" fill="#2a62b0"/>
<polygon points="1105.2,251 1109.25,251 1109.25,275 1105.2,270" fill="#3ca2f2"/>
<polygon points="1100,245 1117,245 1108.5,252" fill="#06101e"/>
<polygon points="1115,254 1130,254 1130,281 1122.5,290 1115,281" fill="#1c4888"/>
<polygon points="1123.25,258 1128,258 1128,281 1122.5,287 1123.25,281" fill="#2a62b0"/>
<polygon points="1119.2,260 1123.25,260 1123.25,284 1119.2,279" fill="#3ca2f2"/>
<polygon points="1114,254 1131,254 1122.5,261" fill="#06101e"/>
<polygon points="1129,260 1144,260 1144,287 1136.5,296 1129,287" fill="#1c4888"/>
<polygon points="1137.25,264 1142,264 1142,287 1136.5,293 1137.25,287" fill="#2a62b0"/>
<polygon points="1133.2,266 1137.25,266 1137.25,290 1133.2,285" fill="#3ca2f2"/>
<polygon points="1128,260 1145,260 1136.5,267" fill="#06101e"/>
<polygon points="1143,266 1158,266 1158,293 1150.5,302 1143,293" fill="#1c4888"/>
<polygon points="1151.25,270 1156,270 1156,293 1150.5,299 1151.25,293" fill="#2a62b0"/>
<polygon points="1147.2,272 1151.25,272 1151.25,296 1147.2,291" fill="#3ca2f2"/>
<polygon points="1142,266 1159,266 1150.5,273" fill="#06101e"/>
<polygon points="1158,270 1173,270 1173,297 1165.5,306 1158,297" fill="#1c4888"/>
<polygon points="1166.25,274 1171,274 1171,297 1165.5,303 1166.25,297" fill="#2a62b0"/>
<polygon points="1162.2,276 1166.25,276 1166.25,300 1162.2,295" fill="#3ca2f2"/>
<polygon points="1157,270 1174,270 1165.5,277" fill="#06101e"/>
<polygon points="1173,268 1188,268 1188,295 1180.5,304 1173,295" fill="#1c4888"/>
<polygon points="1181.25,272 1186,272 1186,295 1180.5,301 1181.25,295" fill="#2a62b0"/>
<polygon points="1177.2,274 1181.25,274 1181.25,298 1177.2,293" fill="#3ca2f2"/>
<polygon points="1172,268 1189,268 1180.5,275" fill="#06101e"/>
<polygon points="1187,278 1202,278 1202,305 1194.5,314 1187,305" fill="#1c4888"/>
<polygon points="1195.25,282 1200,282 1200,305 1194.5,311 1195.25,305" fill="#2a62b0"/>
<polygon points="1191.2,284 1195.25,284 1195.25,308 1191.2,303" fill="#3ca2f2"/>
<polygon points="1186,278 1203,278 1194.5,285" fill="#06101e"/>
<ellipse cx="821.5" cy="271.0" rx="42.5" ry="13" transform="rotate(0 821.5 271.0)" fill="url(#gsal)"/>
<ellipse cx="837.5" cy="276.0" rx="31.5" ry="11" transform="rotate(0 837.5 276.0)" fill="url(#gsal)"/>
<ellipse cx="831.5" cy="254.5" rx="42.5" ry="13" transform="rotate(0 831.5 254.5)" fill="url(#gsal)"/>
<ellipse cx="815.5" cy="259.5" rx="31.5" ry="11" transform="rotate(0 815.5 259.5)" fill="url(#gsal)"/>
<ellipse cx="821.5" cy="238.0" rx="42.5" ry="13" transform="rotate(0 821.5 238.0)" fill="url(#gsal)"/>
<ellipse cx="837.5" cy="243.0" rx="31.5" ry="11" transform="rotate(0 837.5 243.0)" fill="url(#gsal)"/>
<ellipse cx="831.5" cy="221.5" rx="42.5" ry="13" transform="rotate(0 831.5 221.5)" fill="url(#gsal)"/>
<ellipse cx="815.5" cy="226.5" rx="31.5" ry="11" transform="rotate(0 815.5 226.5)" fill="url(#gsal)"/>
<ellipse cx="821.5" cy="205.0" rx="42.5" ry="13" transform="rotate(0 821.5 205.0)" fill="url(#gsal)"/>
<ellipse cx="837.5" cy="210.0" rx="31.5" ry="11" transform="rotate(0 837.5 210.0)" fill="url(#gsal)"/>
<ellipse cx="831.5" cy="188.5" rx="42.5" ry="13" transform="rotate(0 831.5 188.5)" fill="url(#gsal)"/>
<ellipse cx="815.5" cy="193.5" rx="31.5" ry="11" transform="rotate(0 815.5 193.5)" fill="url(#gsal)"/>
<ellipse cx="821.5" cy="172.0" rx="42.5" ry="13" transform="rotate(0 821.5 172.0)" fill="url(#gsal)"/>
<ellipse cx="837.5" cy="177.0" rx="31.5" ry="11" transform="rotate(0 837.5 177.0)" fill="url(#gsal)"/>
<ellipse cx="831.5" cy="155.5" rx="42.5" ry="13" transform="rotate(0 831.5 155.5)" fill="url(#gsal)"/>
<ellipse cx="815.5" cy="160.5" rx="31.5" ry="11" transform="rotate(0 815.5 160.5)" fill="url(#gsal)"/>
<ellipse cx="821.5" cy="139.0" rx="42.5" ry="13" transform="rotate(0 821.5 139.0)" fill="url(#gsal)"/>
<ellipse cx="837.5" cy="144.0" rx="31.5" ry="11" transform="rotate(0 837.5 144.0)" fill="url(#gsal)"/>
<polygon points="780,130 795,130 795,157 787.5,166 780,157" fill="#1c4888"/>
<polygon points="788.25,134 793,134 793,157 787.5,163 788.25,157" fill="#2a62b0"/>
<polygon points="784.2,136 788.25,136 788.25,160 784.2,155" fill="#3ca2f2"/>
<polygon points="779,130 796,130 787.5,137" fill="#06101e"/>
<polygon points="780,144 795,144 795,171 787.5,180 780,171" fill="#1c4888"/>
<polygon points="788.25,148 793,148 793,171 787.5,177 788.25,171" fill="#2a62b0"/>
<polygon points="784.2,150 788.25,150 788.25,174 784.2,169" fill="#3ca2f2"/>
<polygon points="779,144 796,144 787.5,151" fill="#06101e"/>
<polygon points="793,152 808,152 808,179 800.5,188 793,179" fill="#1c4888"/>
<polygon points="801.25,156 806,156 806,179 800.5,185 801.25,179" fill="#2a62b0"/>
<polygon points="797.2,158 801.25,158 801.25,182 797.2,177" fill="#3ca2f2"/>
<polygon points="792,152 809,152 800.5,159" fill="#06101e"/>
<polygon points="808,158 823,158 823,185 815.5,194 808,185" fill="#1c4888"/>
<polygon points="816.25,162 821,162 821,185 815.5,191 816.25,185" fill="#2a62b0"/>
<polygon points="812.2,164 816.25,164 816.25,188 812.2,183" fill="#3ca2f2"/>
<polygon points="807,158 824,158 815.5,165" fill="#06101e"/>
<polygon points="824,165 839,165 839,192 831.5,201 824,192" fill="#1c4888"/>
<polygon points="832.25,169 837,169 837,192 831.5,198 832.25,192" fill="#2a62b0"/>
<polygon points="828.2,171 832.25,171 832.25,195 828.2,190" fill="#3ca2f2"/>
<polygon points="823,165 840,165 831.5,172" fill="#06101e"/>
<polygon points="839,168 854,168 854,195 846.5,204 839,195" fill="#1c4888"/>
<polygon points="847.25,172 852,172 852,195 846.5,201 847.25,195" fill="#2a62b0"/>
<polygon points="843.2,174 847.25,174 847.25,198 843.2,193" fill="#3ca2f2"/>
<polygon points="838,168 855,168 846.5,175" fill="#06101e"/>
<polygon points="855,165 870,165 870,192 862.5,201 855,192" fill="#1c4888"/>
<polygon points="863.25,169 868,169 868,192 862.5,198 863.25,192" fill="#2a62b0"/>
<polygon points="859.2,171 863.25,171 863.25,195 859.2,190" fill="#3ca2f2"/>
<polygon points="854,165 871,165 862.5,172" fill="#06101e"/>
<polygon points="868,177 883,177 883,204 875.5,213 868,204" fill="#1c4888"/>
<polygon points="876.25,181 881,181 881,204 875.5,210 876.25,204" fill="#2a62b0"/>
<polygon points="872.2,183 876.25,183 876.25,207 872.2,202" fill="#3ca2f2"/>
<polygon points="867,177 884,177 875.5,184" fill="#06101e"/>
<polygon points="777,200 792,200 792,227 784.5,236 777,227" fill="#1c4888"/>
<polygon points="785.25,204 790,204 790,227 784.5,233 785.25,227" fill="#2a62b0"/>
<polygon points="781.2,206 785.25,206 785.25,230 781.2,225" fill="#3ca2f2"/>
<polygon points="776,200 793,200 784.5,207" fill="#06101e"/>
<polygon points="778,218 793,218 793,245 785.5,254 778,245" fill="#1c4888"/>
<polygon points="786.25,222 791,222 791,245 785.5,251 786.25,245" fill="#2a62b0"/>
<polygon points="782.2,224 786.25,224 786.25,248 782.2,243" fill="#3ca2f2"/>
<polygon points="777,218 794,218 785.5,225" fill="#06101e"/>
<polygon points="792,227 807,227 807,254 799.5,263 792,254" fill="#1c4888"/>
<polygon points="800.25,231 805,231 805,254 799.5,260 800.25,254" fill="#2a62b0"/>
<polygon points="796.2,233 800.25,233 800.25,257 796.2,252" fill="#3ca2f2"/>
<polygon points="791,227 808,227 799.5,234" fill="#06101e"/>
<polygon points="807,233 822,233 822,260 814.5,269 807,260" fill="#1c4888"/>
<polygon points="815.25,237 820,237 820,260 814.5,266 815.25,260" fill="#2a62b0"/>
<polygon points="811.2,239 815.25,239 815.25,263 811.2,258" fill="#3ca2f2"/>
<polygon points="806,233 823,233 814.5,240" fill="#06101e"/>
<polygon points="822,240 837,240 837,267 829.5,276 822,267" fill="#1c4888"/>
<polygon points="830.25,244 835,244 835,267 829.5,273 830.25,267" fill="#2a62b0"/>
<polygon points="826.2,246 830.25,246 830.25,270 826.2,265" fill="#3ca2f2"/>
<polygon points="821,240 838,240 829.5,247" fill="#06101e"/>
<polygon points="838,243 853,243 853,270 845.5,279 838,270" fill="#1c4888"/>
<polygon points="846.25,247 851,247 851,270 845.5,276 846.25,270" fill="#2a62b0"/>
<polygon points="842.2,249 846.25,249 846.25,273 842.2,268" fill="#3ca2f2"/>
<polygon points="837,243 854,243 845.5,250" fill="#06101e"/>
<polygon points="854,240 869,240 869,267 861.5,276 854,267" fill="#1c4888"/>
<polygon points="862.25,244 867,244 867,267 861.5,273 862.25,267" fill="#2a62b0"/>
<polygon points="858.2,246 862.25,246 862.25,270 858.2,265" fill="#3ca2f2"/>
<polygon points="853,240 870,240 861.5,247" fill="#06101e"/>
<polygon points="868,248 883,248 883,275 875.5,284 868,275" fill="#1c4888"/>
<polygon points="876.25,252 881,252 881,275 875.5,281 876.25,275" fill="#2a62b0"/>
<polygon points="872.2,254 876.25,254 876.25,278 872.2,273" fill="#3ca2f2"/>
<polygon points="867,248 884,248 875.5,255" fill="#06101e"/>
<polygon points="791,60 800,56 820,57 845,58 866,60 868,66 868,142 857,150 832,153 818,150 792,148" fill="#7434d4"/>
<polygon points="791,60 805,57 805,73 791,76" fill="url(#gvd)"/>
<rect x="805" y="57" width="14" height="16" fill="url(#gvf)"/>
<polygon points="791,60 805,57 819,57 817,60" fill="#a964fb" opacity="0.85"/>
<polygon points="791,75 805,72 805,88 791,91" fill="url(#gvd)"/>
<rect x="805" y="72" width="14" height="16" fill="url(#gvf)"/>
<polygon points="791,75 805,72 819,72 817,75" fill="#a964fb" opacity="0.85"/>
<polygon points="791,90 805,87 805,103 791,106" fill="url(#gvd)"/>
<rect x="805" y="87" width="14" height="16" fill="url(#gvf)"/>
<polygon points="791,90 805,87 819,87 817,90" fill="#a964fb" opacity="0.85"/>
<polygon points="791,105 805,102 805,118 791,121" fill="url(#gvd)"/>
<rect x="805" y="102" width="14" height="16" fill="url(#gvf)"/>
<polygon points="791,105 805,102 819,102 817,105" fill="#a964fb" opacity="0.85"/>
<polygon points="791,120 805,117 805,133 791,136" fill="url(#gvd)"/>
<rect x="805" y="117" width="14" height="16" fill="url(#gvf)"/>
<polygon points="791,120 805,117 819,117 817,120" fill="#a964fb" opacity="0.85"/>
<polygon points="791,135 805,132 805,148 791,151" fill="url(#gvd)"/>
<rect x="805" y="132" width="14" height="16" fill="url(#gvf)"/>
<polygon points="791,135 805,132 819,132 817,135" fill="#a964fb" opacity="0.85"/>
<polygon points="836,64 844,61 844,76 836,79" fill="url(#gvd)"/>
<rect x="844" y="61" width="24" height="15" fill="url(#gvf)"/>
<polygon points="836,64 844,61 868,61 866,64" fill="#a964fb" opacity="0.85"/>
<polygon points="836,78 844,75 844,90 836,93" fill="url(#gvd)"/>
<rect x="844" y="75" width="24" height="15" fill="url(#gvf)"/>
<polygon points="836,78 844,75 868,75 866,78" fill="#a964fb" opacity="0.85"/>
<polygon points="836,92 844,89 844,104 836,107" fill="url(#gvd)"/>
<rect x="844" y="89" width="24" height="15" fill="url(#gvf)"/>
<polygon points="836,92 844,89 868,89 866,92" fill="#a964fb" opacity="0.85"/>
<polygon points="836,106 844,103 844,118 836,121" fill="url(#gvd)"/>
<rect x="844" y="103" width="24" height="15" fill="url(#gvf)"/>
<polygon points="836,106 844,103 868,103 866,106" fill="#a964fb" opacity="0.85"/>
<polygon points="836,120 844,117 844,132 836,135" fill="url(#gvd)"/>
<rect x="844" y="117" width="24" height="15" fill="url(#gvf)"/>
<polygon points="836,120 844,117 868,117 866,120" fill="#a964fb" opacity="0.85"/>
<polygon points="836,134 844,131 844,146 836,149" fill="url(#gvd)"/>
<rect x="844" y="131" width="24" height="15" fill="url(#gvf)"/>
<polygon points="836,134 844,131 868,131 866,134" fill="#a964fb" opacity="0.85"/>
<polygon points="818,75.0 832,72.0 832,86.5 818,89.5" fill="url(#gvd)"/>
<rect x="832" y="72.0" width="25" height="14.5" fill="url(#gvf)"/>
<polygon points="818,75.0 832,72.0 857,72.0 855,75.0" fill="#a964fb" opacity="0.85"/>
<polygon points="818,88.5 832,85.5 832,100.0 818,103.0" fill="url(#gvd)"/>
<rect x="832" y="85.5" width="25" height="14.5" fill="url(#gvf)"/>
<polygon points="818,88.5 832,85.5 857,85.5 855,88.5" fill="#a964fb" opacity="0.85"/>
<polygon points="818,102.0 832,99.0 832,113.5 818,116.5" fill="url(#gvd)"/>
<rect x="832" y="99.0" width="25" height="14.5" fill="url(#gvf)"/>
<polygon points="818,102.0 832,99.0 857,99.0 855,102.0" fill="#a964fb" opacity="0.85"/>
<polygon points="818,115.5 832,112.5 832,127.0 818,130.0" fill="url(#gvd)"/>
<rect x="832" y="112.5" width="25" height="14.5" fill="url(#gvf)"/>
<polygon points="818,115.5 832,112.5 857,112.5 855,115.5" fill="#a964fb" opacity="0.85"/>
<polygon points="818,129.0 832,126.0 832,140.5 818,143.5" fill="url(#gvd)"/>
<rect x="832" y="126.0" width="25" height="14.5" fill="url(#gvf)"/>
<polygon points="818,129.0 832,126.0 857,126.0 855,129.0" fill="#a964fb" opacity="0.85"/>
<polygon points="818,142.5 832,139.5 832,154.0 818,157.0" fill="url(#gvd)"/>
<rect x="832" y="139.5" width="25" height="14.5" fill="url(#gvf)"/>
<polygon points="818,142.5 832,139.5 857,139.5 855,142.5" fill="#a964fb" opacity="0.85"/>
<text x="389.6" y="33.5" font-size="24" textLength="77.4" lengthAdjust="spacingAndGlyphs">NLRP1</text>
<text x="352.2" y="83.4" font-size="24" textLength="54.4" lengthAdjust="spacingAndGlyphs">NOD</text>
<text x="393.4" y="119.5" font-size="24" textLength="48.3" lengthAdjust="spacingAndGlyphs">LRR</text>
<text x="427.7" y="155" font-size="24" textLength="47" lengthAdjust="spacingAndGlyphs">ZU5</text>
<text x="514.9" y="158.1" font-size="24" textLength="50" lengthAdjust="spacingAndGlyphs">UPA</text>
<text x="561.2" y="126.6" font-size="24" textLength="70.6" lengthAdjust="spacingAndGlyphs">CARD</text>
<text x="72.4" y="140.7" font-size="24" textLength="98.4" lengthAdjust="spacingAndGlyphs">unknown</text>
<text x="72" y="170" font-size="24" textLength="103.4" lengthAdjust="spacingAndGlyphs">substrate</text>
<text x="39.4" y="258" font-size="24" textLength="134.6" lengthAdjust="spacingAndGlyphs">First NLRP1</text>
<text x="39.4" y="288" font-size="24" textLength="153.6" lengthAdjust="spacingAndGlyphs">binds v ia ZU5</text>
<text x="236" y="416" font-size="24" textLength="172.8" lengthAdjust="spacingAndGlyphs">Second NLRP1</text>
<text x="236" y="446" font-size="24" textLength="158.8" lengthAdjust="spacingAndGlyphs">binds v ia UPA</text>
<text x="202.4" y="528.3" font-size="24" textLength="164.5" lengthAdjust="spacingAndGlyphs">Dissociation of</text>
<text x="222.7" y="558.3" font-size="24" textLength="125.1" lengthAdjust="spacingAndGlyphs">N-terminus</text>
<text x="474" y="390.5" font-size="24" textLength="116" lengthAdjust="spacingAndGlyphs">Pathogen-</text>
<text x="490" y="421" font-size="24" textLength="83" lengthAdjust="spacingAndGlyphs">derived</text>
<text x="477.3" y="450.5" font-size="24" textLength="109.7" lengthAdjust="spacingAndGlyphs">proteases</text>
<text x="642.5" y="403" font-size="24" textLength="87.5" lengthAdjust="spacingAndGlyphs">IpaH7.8</text>
<text x="615" y="432.7" font-size="24" textLength="142" lengthAdjust="spacingAndGlyphs">ubiquitylates</text>
<text x="739.2" y="492.5" font-size="24" textLength="137.3" lengthAdjust="spacingAndGlyphs">Proteasome</text>
<text x="921.5" y="754.8" font-size="24" textLength="178" lengthAdjust="spacingAndGlyphs">The N-terminus</text>
<text x="943.3" y="784.2" font-size="24" textLength="132.7" lengthAdjust="spacingAndGlyphs">is degraded</text>
<text x="968.2" y="500.4" font-size="24" textLength="133.3" lengthAdjust="spacingAndGlyphs">UPA-CARD</text>
<text x="973.4" y="530" font-size="24" textLength="120.5" lengthAdjust="spacingAndGlyphs">is released</text>
<text x="1159.5" y="551.3" font-size="24" textLength="19.8" lengthAdjust="spacingAndGlyphs">or</text>
<text x="1061" y="636.8" font-size="24" textLength="171.7" lengthAdjust="spacingAndGlyphs">Disassembly of</text>
<text x="1056.7" y="665.7" font-size="24" textLength="179" lengthAdjust="spacingAndGlyphs">the 2:1 complex</text>
<text x="913.8" y="374.4" font-size="24" textLength="231.6" lengthAdjust="spacingAndGlyphs">UPA oligomerization</text>
<text x="937" y="404.2" font-size="24" textLength="184.3" lengthAdjust="spacingAndGlyphs">facilitates CARD</text>
<text x="942.7" y="433.6" font-size="24" textLength="173.8" lengthAdjust="spacingAndGlyphs">oligomerization</text>
<text x="988.6" y="121" font-size="24" textLength="50.7" lengthAdjust="spacingAndGlyphs">ASC</text>
<text x="1075.5" y="145.2" font-size="24" textLength="160.7" lengthAdjust="spacingAndGlyphs">NLRP1 CARD</text>
<text x="942.7" y="248.2" font-size="24" textLength="49" lengthAdjust="spacingAndGlyphs">ASC</text>
<text x="904.4" y="278.1" font-size="24" textLength="127.3" lengthAdjust="spacingAndGlyphs">recruitment</text>
<text x="746.8" y="21.6" font-size="24" textLength="167.5" lengthAdjust="spacingAndGlyphs">Inflammasome</text>
<text x="776.6" y="51.8" font-size="24" textLength="107.7" lengthAdjust="spacingAndGlyphs">activation</text>
<text x="134" y="503.9" font-size="25" stroke="#000" stroke-width="0.75" textLength="31" lengthAdjust="spacingAndGlyphs">(1)</text>
<text x="404" y="762.8" font-size="25" stroke="#000" stroke-width="0.75" textLength="31" lengthAdjust="spacingAndGlyphs">(2)</text>
<text x="818" y="775.5" font-size="25" stroke="#000" stroke-width="0.75" textLength="31" lengthAdjust="spacingAndGlyphs">(3)</text>
<text x="1139" y="344.9" font-size="25" stroke="#000" stroke-width="0.75" textLength="31" lengthAdjust="spacingAndGlyphs">(4)</text>
<text x="811" y="313.5" font-size="25" stroke="#000" stroke-width="0.75" textLength="31" lengthAdjust="spacingAndGlyphs">(5)</text>
<text x="190" y="203.7" font-size="24" textLength="65.5" lengthAdjust="spacingAndGlyphs">DPP9</text>
</svg></body></html>
